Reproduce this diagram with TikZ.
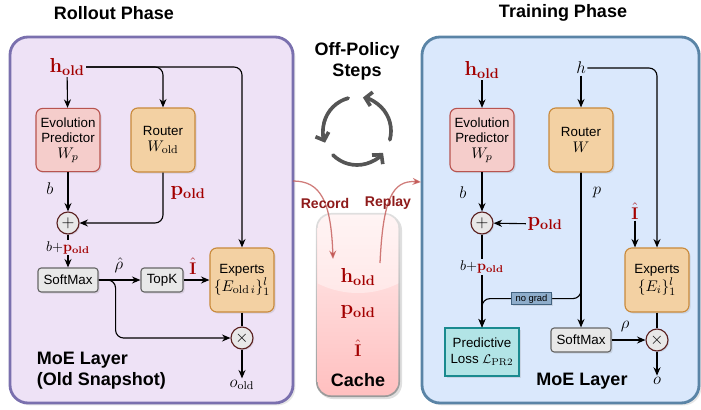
\documentclass[tikz,border=0pt]{standalone}
\usepackage[no-math]{fontspec}
\setmainfont{Liberation Sans}
\usepackage{xcolor}
\usepackage{amsmath}
\usepackage{tikz}
\usetikzlibrary{arrows.meta, positioning, shadows}

\definecolor{rollfill}{HTML}{EEE2F6}
\definecolor{rolldraw}{HTML}{7A70AE}
\definecolor{trainfill}{HTML}{DAE8FC}
\definecolor{traindraw}{HTML}{5A84A6}
\definecolor{epfill}{HTML}{F5CDCB}
\definecolor{epdraw}{HTML}{B85450}
\definecolor{rtfill}{HTML}{F3D1A3}
\definecolor{rtdraw}{HTML}{C98A3C}
\definecolor{opfill}{HTML}{E8E8E8}
\definecolor{opdraw}{HTML}{666666}
\definecolor{circdraw}{HTML}{5B2020}
\definecolor{lossfill}{HTML}{B2E4E6}
\definecolor{lossdraw}{HTML}{1A8A8F}
\definecolor{gradfill}{HTML}{8EADCB}
\definecolor{graddraw}{HTML}{41627F}
\definecolor{varred}{HTML}{A30000}
\definecolor{flowred}{HTML}{C0504D}
\definecolor{flowtext}{HTML}{8E1B1B}
\definecolor{cyclegray}{HTML}{555555}

\newcommand{\vhold}{\mathbf{h}_{\mathbf{old}}}
\newcommand{\vpold}{\mathbf{p}_{\mathbf{old}}}
\newcommand{\vihat}{\hat{\mathbf{I}}}
\newcommand{\wfont}{\fontsize{11}{13}\selectfont}

\tikzstyle{phase} = [rounded corners=0.45cm, line width=2pt, drop shadow={opacity=0.2, shadow xshift=0.6mm, shadow yshift=-0.6mm}]
\tikzstyle{heading} = [font=\bfseries\fontsize{12.8}{15}\selectfont]
\tikzstyle{predictor} = [rectangle, rounded corners=0.17cm, minimum width=1.6cm, minimum height=1.58cm, inner sep=1pt, align=center, draw=epdraw, fill=epfill, line width=0.8pt, font=\fontsize{9.5}{11}\selectfont, drop shadow={opacity=0.2, shadow xshift=0.4mm, shadow yshift=-0.4mm}]
\tikzstyle{router} = [predictor, minimum height=1.6cm, draw=rtdraw, fill=rtfill]
\tikzstyle{op} = [rectangle, rounded corners=0.08cm, minimum height=0.6cm, inner sep=1pt, draw=opdraw, fill=opfill, line width=0.8pt, font=\fontsize{9.5}{11}\selectfont, drop shadow={opacity=0.2, shadow xshift=0.4mm, shadow yshift=-0.4mm}]
\tikzstyle{loss} = [rectangle, minimum width=1.85cm, minimum height=1.2cm, inner sep=1pt, align=center, draw=lossdraw, fill=lossfill, line width=0.8pt, font=\fontsize{9.5}{11}\selectfont, drop shadow={opacity=0.2, shadow xshift=0.4mm, shadow yshift=-0.4mm}]
\tikzstyle{combine} = [circle, minimum size=0.55cm, inner sep=0pt, draw=circdraw, fill=opfill, line width=0.8pt, font=\fontsize{12}{12}\selectfont, drop shadow={opacity=0.2, shadow xshift=0.3mm, shadow yshift=-0.3mm}]
\tikzstyle{nograd} = [rectangle, sharp corners, minimum width=1cm, minimum height=0.3cm, inner sep=0.5pt, draw=graddraw, fill=gradfill, line width=0.6pt, font=\fontsize{6.7}{7}\selectfont, drop shadow={opacity=0.2, shadow xshift=0.3mm, shadow yshift=-0.3mm}]
\tikzstyle{var} = [font=\fontsize{12}{14}\selectfont, inner sep=1pt]
\tikzstyle{redvar} = [text=varred, font=\fontsize{14}{16}\selectfont, inner sep=1pt]
\tikzstyle{sumlabel} = [font=\fontsize{10}{12}\selectfont, inner sep=1pt]
\tikzstyle{cachebox} = [rectangle, rounded corners=0.38cm, minimum width=2.1cm, minimum height=4.6cm, top color=gray!25, bottom color=gray!80, drop shadow={opacity=0.25, shadow xshift=0.5mm, shadow yshift=-0.5mm}]
\tikzstyle{flowlabel} = [text=flowtext, font=\bfseries\fontsize{10}{12}\selectfont]
\tikzstyle{arrow} = [line width=0.8pt, ->, >={Stealth[length=6pt,width=5pt]}]
\tikzstyle{link} = [line width=0.8pt]
\tikzstyle{flow} = [flowred, opacity=0.75, line width=0.9pt, -{Stealth[length=6pt,width=5pt]}]
\tikzstyle{cyclearrow} = [cyclegray, line width=2.6pt, line cap=round, -{Straight Barb[length=4.5pt,width=10pt]}]

\begin{document}
\begin{tikzpicture}[x=0.025cm, y=0.025cm]
\useasboundingbox (0,0) rectangle (701,-409);

% phase panels
\draw [phase, draw=rolldraw, fill=rollfill] (10,-37) rectangle (293,-403);
\draw [phase, draw=traindraw, fill=trainfill] (422,-37) rectangle (699,-403);

% rollout phase
\node (rtitle) [heading] at (114,-13) {Rollout Phase};
\node (rhold) [redvar] at (67,-67) {$\vhold$};
\node (rpred) [predictor] at (68,-140) {Evolution\\Predictor\\{\wfont $W_p$}};
\node (rrouter) [router] at (163,-140) {Router\\{\wfont $W_{\mathrm{old}}$}};
\node (rb) [var] at (50,-189) {$b$};
\node (rp) [redvar] at (188,-193) {$\vpold$};
\node (rplus) [combine] at (68,-223) {$+$};
\node (rsoft) [op, minimum width=1.5cm] at (68,-280) {SoftMax};
\node (rtopk) [op, minimum width=1.05cm] at (162,-280) {TopK};
\node (rexperts) [router] at (242,-280) {Experts\\{\wfont $\{E_{\mathrm{old}\,i}\}_1^l$}};
\node (rrho) [var] at (119,-265) {$\hat\rho$};
\node (rihat) [redvar, font=\fontsize{13}{14}\selectfont] at (193,-266) {$\vihat$};
\node (rtimes) [combine] at (242,-338) {$\times$};
\node (rout) [var] at (242,-385) {$o_{\mathrm{old}}$};
\node (rmoe) [heading, align=left, anchor=west] at (32,-371) {MoE Layer\\(Old Snapshot)};

\draw [arrow] (rhold) -- (rpred);
\draw [arrow, rounded corners=0.2cm] (rhold.east) -| (rrouter);
\draw [arrow, rounded corners=0.2cm] (rhold.east) -| (rexperts);
\draw [arrow] (rpred) -- (rplus);
\draw [arrow, rounded corners=0.2cm] (rrouter) |- (rplus);
\draw [arrow] (rplus) -- node [sumlabel, fill=rollfill, pos=0.4] {$b{+}$\textcolor{varred}{$\vpold$}} (rsoft);
\draw [arrow] (rsoft) -- (rtopk);
\draw [arrow] (rtopk) -- (rexperts);
\draw [arrow, rounded corners=0.2cm] (rsoft.east) -- ++(17,0) |- (rtimes);
\draw [link] (rexperts) -- (rtimes);
\draw [arrow] (rtimes) -- (rout);

% training phase
\node (ttitle) [heading] at (563,-13) {Training Phase};
\node (thold) [redvar] at (482,-70) {$\vhold$};
\node (th) [var] at (581,-68) {$h$};
\node (tpred) [predictor] at (482,-140) {Evolution\\Predictor\\{\wfont $W_p$}};
\node (trouter) [router] at (581,-140) {Router\\{\wfont $W$}};
\node (tb) [var] at (463,-193) {$b$};
\node (tp) [var] at (597,-193) {$p$};
\node (tplus) [combine] at (482,-223) {$+$};
\node (tpold) [redvar] at (545,-224) {$\vpold$};
\node (tihat) [redvar, font=\fontsize{13}{14}\selectfont] at (635,-211) {$\vihat$};
\node (texperts) [router] at (657,-280) {Experts\\{\wfont $\{E_i\}_1^l$}};
\node (tloss) [loss] at (482,-352) {Predictive\\Loss $\mathcal{L}_{\mathrm{PR2}}$};
\node (tsoft) [op, minimum width=1.5cm] at (581,-340) {SoftMax};
\node (trho) [var] at (625,-326) {$\rho$};
\node (ttimes) [combine] at (657,-340) {$\times$};
\node (tout) [var] at (657,-381) {$o$};
\node (tmoe) [heading] at (582,-381) {MoE Layer};

\draw [arrow] (thold) -- (tpred);
\draw [arrow] (th) -- (trouter);
\draw [arrow, rounded corners=0.2cm] (th.east) -| (texperts);
\draw [arrow] (tihat) -- (tihat |- texperts.north);
\draw [arrow] (tpred) -- (tplus);
\draw [arrow] (tpold) -- (tplus);
\draw [arrow] (trouter) -- (tsoft);
\draw [arrow, rounded corners=0.2cm] (trouter.south) -- ++(0,-126) -| node [nograd, pos=0.25] {no grad} (tloss);
\draw [arrow] (tplus) -- node [sumlabel, fill=trainfill, pos=0.35] {$b{+}$\textcolor{varred}{$\vpold$}} (tloss);
\draw [arrow] (tsoft) -- (ttimes);
\draw [link] (texperts) -- (ttimes);
\draw [arrow] (ttimes) -- (tout);

% off-policy steps
\node (offp) [heading, align=center] at (357,-61) {Off-Policy\\Steps};
\foreach \a in {-15,105,225}
  \draw [cyclearrow] ([shift={(\a:34)}]357,-131) arc [start angle=\a, end angle=\a+95, radius=34];

% cache
\node (cache) [cachebox] at (358,-305) {};
\shade [top color=red!7, bottom color=red!25, rounded corners=0.34cm] ([shift={(2,-2)}]cache.north west) rectangle ([shift={(-2,2)}]cache.south east);
\begin{scope}
  \clip [rounded corners=0.34cm] ([shift={(2,-2)}]cache.north west) rectangle ([shift={(-2,2)}]cache.south east);
  \fill [white, opacity=0.4] (358,-180) ellipse [x radius=100, y radius=113];
\end{scope}
\node (chold) [redvar] at (358,-277) {$\vhold$};
\node (cpold) [redvar] at (358,-312) {$\vpold$};
\node (cihat) [redvar, font=\fontsize{13}{14}\selectfont] at (358,-348) {$\vihat$};
\node (clabel) [heading] at (358,-380) {Cache};

% record / replay
\coordinate (recfrom) at (293,-181);
\coordinate (recto) at (333,-259);
\coordinate (repfrom) at (380,-263);
\coordinate (repto) at (421,-182);
\draw [flow] (recfrom) .. controls (320,-181) and (331,-200) .. (recto);
\draw [flow] (repfrom) .. controls (383,-200) and (392,-180) .. (repto);
\node (rec) [flowlabel] at (325,-203) {Record};
\node (rep) [flowlabel] at (388,-203) {Replay};

\end{tikzpicture}
\end{document}
